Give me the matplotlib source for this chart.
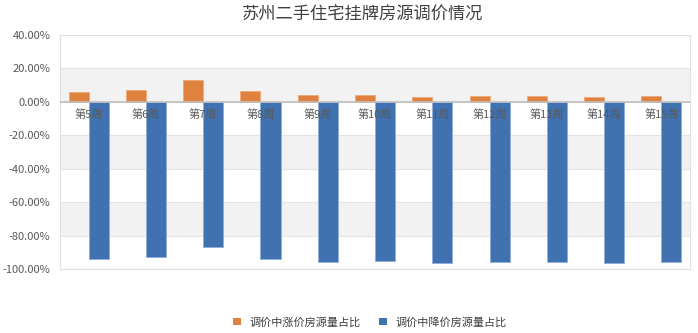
import numpy as np
import matplotlib.pyplot as plt
from matplotlib.patches import Patch

plt.rcParams['font.family'] = ['Noto Sans CJK SC', 'DejaVu Sans']

weeks = ['第5周', '第6周', '第7周', '第8周', '第9周', '第10周',
         '第11周', '第12周', '第13周', '第14周', '第15周']
up_share = [6.0, 7.0, 13.0, 6.6, 4.4, 4.4, 3.0, 3.6, 3.6, 3.2, 3.7]
down_share = [-94.3, -93.0, -87.0, -93.8, -96.0, -95.4, -96.6, -96.0, -96.0, -96.6, -96.0]
series_names = ['调价中涨价房源量占比', '调价中降价房源量占比']

orange = '#E0823F'
blue = '#4071B0'

fig = plt.figure(figsize=(6.98, 3.33), dpi=100)
ax = fig.add_axes([60 / 698, 1 - 269 / 333, 630 / 698, 234 / 333])

x = np.arange(len(weeks))
w = 0.35
ax.bar(x - w / 2, up_share, w, color=orange, edgecolor='#F0A877', linewidth=0.6, zorder=3)
ax.bar(x + w / 2, down_share, w, color=blue, edgecolor='#8FAEDA', linewidth=0.6, zorder=3)

ax.set_ylim(-100, 40)
ax.set_xlim(-0.5, len(weeks) - 0.5)

# alternating gray bands
for lo in [0, -40, -80]:
    ax.axhspan(lo, lo + 20, color='#F2F2F2', zorder=0, linewidth=0)
yt = np.arange(-100, 41, 20)
for y in yt:
    ax.axhline(y, color='#E3E3E3', linewidth=0.8, zorder=1)
ax.axhline(0, color='#BFBFBF', linewidth=1.2, zorder=4)

ax.set_yticks(yt)
ax.set_yticklabels(['%.2f%%' % v for v in yt], fontsize=8, color='#595959')
ax.tick_params(axis='y', length=0, pad=7)
ax.set_xticks([])
for i, lab in enumerate(weeks):
    ax.text(i, -4.5, lab, ha='center', va='top', fontsize=8, color='#595959', zorder=5)

for s in ax.spines.values():
    s.set_color('#E0E0E0')
    s.set_linewidth(0.8)

fig.text(0.52, 1 - 15 / 333, '苏州二手住宅挂牌房源调价情况', ha='center', va='center',
         fontsize=12.4, color='#404040')

handles = [Patch(facecolor=orange), Patch(facecolor=blue)]
fig.legend(handles, series_names, loc='center', bbox_to_anchor=(0.53, 1 - 322 / 333),
           ncol=2, frameon=False, fontsize=8, handlelength=0.7, handleheight=0.7,
           columnspacing=1.6, handletextpad=0.8, labelcolor='#404040')

fig.savefig('out.png', facecolor='white')
